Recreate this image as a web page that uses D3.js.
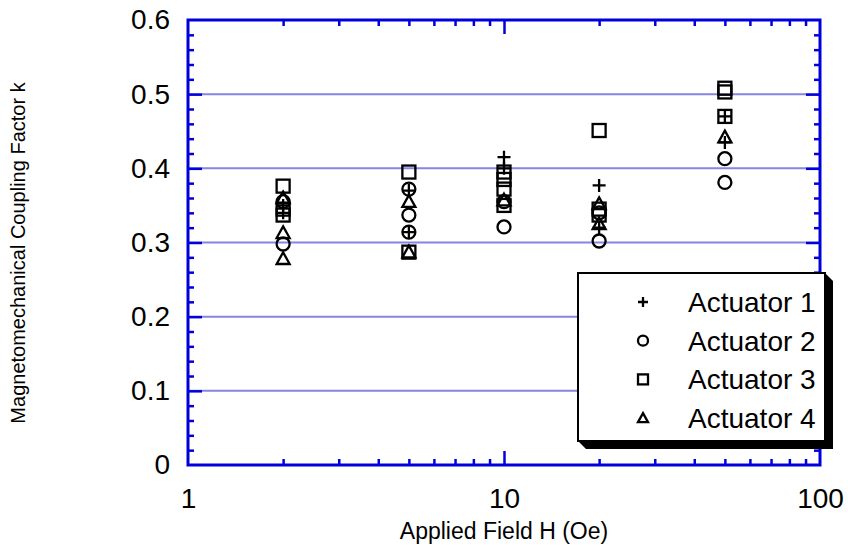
<!DOCTYPE html>
<html>
<head>
<meta charset="utf-8">
<script src="https://cdn.jsdelivr.net/npm/d3@7"></script>
<style>
  body { margin: 0; background: #fff; }
  svg { font-family: "Liberation Sans", Arial, Helvetica, sans-serif; }
</style>
</head>
<body>
<div id="chart"></div>
<script>
// applied field values (Oe), one group of samples per field
var fields = [2, 5, 10, 20, 50];

// coupling factor k, per field, per actuator
var actuator1 = [[0.350, 0.340], [0.370, 0.314], [0.415, 0.400], [0.377, 0.320], [0.470, 0.435]];
var actuator2 = [[0.355, 0.298], [0.372, 0.337, 0.314], [0.355, 0.321], [0.340, 0.302], [0.413, 0.381]];
var actuator3 = [[0.376, 0.345, 0.337], [0.395, 0.287], [0.395, 0.385, 0.372, 0.350], [0.451, 0.345, 0.337], [0.508, 0.503, 0.470]];
var actuator4 = [[0.360, 0.313, 0.278], [0.355, 0.287], [0.357], [0.352, 0.325], [0.442]];

var seriesNames = ["Actuator 1", "Actuator 2", "Actuator 3", "Actuator 4"];
var seriesShapes = ["plus", "circle", "square", "triangle"];
var yTicks = [0, 0.1, 0.2, 0.3, 0.4, 0.5, 0.6];
var xTicks = [1, 10, 100];

var W = 848, H = 545;
var margin = {top: 20, right: 28, bottom: 80, left: 188};
var blue = "#0000dd";
var gridBlue = "#8585e6";

var svg = d3.select("#chart").append("svg")
  .attr("width", W).attr("height", H);

var x = d3.scaleLog().domain([1, 100]).range([margin.left, W - margin.right]);
var y = d3.scaleLinear().domain([0, 0.6]).range([H - margin.bottom, margin.top]);

// horizontal grid lines
svg.append("g").selectAll("line")
  .data(yTicks.filter(function(d) { return d > 0 && d < 0.6; }))
  .enter().append("line")
    .attr("x1", x(1)).attr("x2", x(100))
    .attr("y1", function(d) { return y(d); })
    .attr("y2", function(d) { return y(d); })
    .attr("stroke", gridBlue).attr("stroke-width", 2);

// minor ticks
var yMinor = d3.range(0.02, 0.6, 0.02).filter(function(d) { return Math.abs(d * 10 - Math.round(d * 10)) > 1e-6; });
var xMinor = [];
[1, 10].forEach(function(dec) { for (var i = 2; i <= 9; i++) xMinor.push(dec * i); });

function styleTicks(g) {
  g.select(".domain").remove();
  g.selectAll(".tick line").attr("stroke", blue).attr("stroke-width", 2.5);
  g.selectAll(".tick text").remove();
}

svg.append("g").attr("transform", "translate(" + x(1) + ",0)")
  .call(d3.axisLeft(y).tickValues(yMinor).tickSize(-6)).call(styleTicks);
svg.append("g").attr("transform", "translate(" + x(1) + ",0)")
  .call(d3.axisLeft(y).tickValues([0.1, 0.2, 0.3, 0.4, 0.5]).tickSize(-14)).call(styleTicks);
svg.append("g").attr("transform", "translate(" + x(100) + ",0)")
  .call(d3.axisRight(y).tickValues(yMinor).tickSize(-6)).call(styleTicks);
svg.append("g").attr("transform", "translate(" + x(100) + ",0)")
  .call(d3.axisRight(y).tickValues([0.1, 0.2, 0.3, 0.4, 0.5]).tickSize(-14)).call(styleTicks);
svg.append("g").attr("transform", "translate(0," + y(0) + ")")
  .call(d3.axisBottom(x).tickValues(xMinor).tickSize(-6)).call(styleTicks);
svg.append("g").attr("transform", "translate(0," + y(0) + ")")
  .call(d3.axisBottom(x).tickValues([10]).tickSize(-14)).call(styleTicks);
svg.append("g").attr("transform", "translate(0," + y(0.6) + ")")
  .call(d3.axisTop(x).tickValues(xMinor).tickSize(-6)).call(styleTicks);
svg.append("g").attr("transform", "translate(0," + y(0.6) + ")")
  .call(d3.axisTop(x).tickValues([10]).tickSize(-14)).call(styleTicks);

// frame
svg.append("rect")
  .attr("x", x(1)).attr("y", y(0.6))
  .attr("width", x(100) - x(1)).attr("height", y(0) - y(0.6))
  .attr("fill", "none").attr("stroke", blue).attr("stroke-width", 3);

// tick labels
var yAx = svg.append("g").attr("transform", "translate(" + x(1) + ",0)")
  .call(d3.axisLeft(y).tickValues(yTicks).tickSize(0).tickPadding(18)
    .tickFormat(function(d) { return d === 0 ? "0" : d3.format(".1f")(d); }));
yAx.select(".domain").remove();
yAx.selectAll("text").attr("font-size", 28).attr("font-family", null).attr("fill", "#000");

var xAx = svg.append("g").attr("transform", "translate(0," + y(0) + ")")
  .call(d3.axisBottom(x).tickValues(xTicks).tickSize(0).tickPadding(23).tickFormat(d3.format("d")));
xAx.select(".domain").remove();
xAx.selectAll("text").attr("font-size", 28).attr("font-family", null).attr("fill", "#000");

// axis titles
svg.append("text")
  .attr("x", (x(1) + x(100)) / 2).attr("y", 539)
  .attr("text-anchor", "middle").attr("font-size", 23)
  .text("Applied Field H (Oe)");

svg.append("text")
  .attr("transform", "translate(25,253) rotate(-90)")
  .attr("text-anchor", "middle").attr("font-size", 20)
  .text("Magnetomechanical Coupling Factor k");

// marker drawing
function drawMarker(g, shape, cx, cy, s) {
  if (shape === "plus") {
    g.append("path").attr("d", "M" + (cx - s) + "," + cy + "H" + (cx + s) + "M" + cx + "," + (cy - s) + "V" + (cy + s));
  } else if (shape === "circle") {
    g.append("circle").attr("cx", cx).attr("cy", cy).attr("r", s);
  } else if (shape === "square") {
    g.append("rect").attr("x", cx - s).attr("y", cy - s).attr("width", 2 * s).attr("height", 2 * s);
  } else {
    g.append("path").attr("d", "M" + cx + "," + (cy - s) + "L" + (cx + s) + "," + (cy + s * 0.8) + "L" + (cx - s) + "," + (cy + s * 0.8) + "Z");
  }
}

var allSeries = [actuator1, actuator2, actuator3, actuator4];
var pts = svg.append("g").attr("fill", "none").attr("stroke", "#000").attr("stroke-width", 2.3);
allSeries.forEach(function(series, si) {
  series.forEach(function(vals, fi) {
    vals.forEach(function(v) {
      drawMarker(pts, seriesShapes[si], x(fields[fi]), y(v), 6.5);
    });
  });
});

// legend with drop shadow
var lx = 578, ly = 273, lw = 247, lh = 168, off = 8;
svg.append("path")
  .attr("d", "M" + lx + "," + (ly + lh) + "L" + (lx + off) + "," + (ly + lh + off) +
    "H" + (lx + lw + off) + "V" + (ly + off) + "L" + (lx + lw) + "," + ly + "Z")
  .attr("fill", "#000");
svg.append("rect")
  .attr("x", lx).attr("y", ly).attr("width", lw).attr("height", lh)
  .attr("fill", "#fff").attr("stroke", "#000").attr("stroke-width", 2);

var leg = svg.append("g");
seriesNames.forEach(function(name, i) {
  var cy = 302 + i * 38.7;
  var g = leg.append("g").attr("fill", "none").attr("stroke", "#000").attr("stroke-width", 2.3);
  drawMarker(g, seriesShapes[i], 643, cy, 5);
  leg.append("text").attr("x", 688).attr("y", cy).attr("dy", "0.36em")
    .attr("font-size", 28).text(name);
});
</script>
</body>
</html>
